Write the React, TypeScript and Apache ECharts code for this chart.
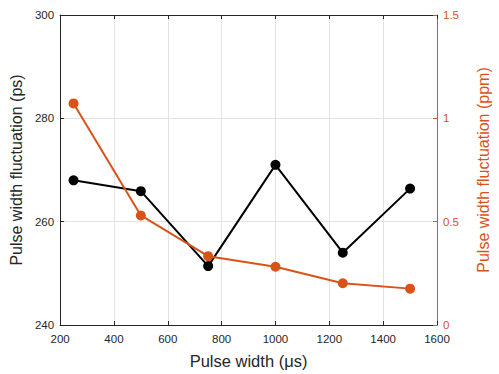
import React, { useEffect, useRef } from "react";
import * as echarts from "echarts";

const pulseWidths = [250, 500, 750, 1000, 1250, 1500];
const fluctuationPs = [268.0, 265.9, 251.4, 271.0, 254.0, 266.4];
const fluctuationPpm = [1.072, 0.53, 0.333, 0.282, 0.202, 0.176];
const leftTicks = [240, 260, 280, 300];
const rightTicks = [0, 0.5, 1, 1.5];

const ORANGE = "#D95319";
const AXIS = "#262626";
const FONT = "Liberation Sans, Arial, Helvetica, sans-serif";

export default function App() {
  const ref = useRef<HTMLDivElement>(null);
  useEffect(() => {
    if (!ref.current) return;
    const chart = echarts.init(ref.current, undefined, { renderer: "svg" });
    chart.setOption({
      animation: false,
      backgroundColor: "#ffffff",
      textStyle: { fontFamily: FONT },
      grid: { left: 58, right: 46, top: 15, bottom: 47, containLabel: false },
      xAxis: [
        {
          type: "value",
          min: 200,
          max: 1600,
          interval: 200,
          name: "Pulse width (μs)",
          nameLocation: "middle",
          nameGap: 27,
          nameTextStyle: { fontSize: 16.5, color: AXIS, fontFamily: FONT },
          axisLine: { show: true, lineStyle: { color: AXIS, width: 1 } },
          axisTick: { show: true, inside: true, length: 4, lineStyle: { color: AXIS } },
          axisLabel: { fontSize: 11.5, color: AXIS, margin: 8, fontFamily: FONT, formatter: (v: number) => String(v) },
          splitLine: { show: true, lineStyle: { color: "#e3e3e3", width: 1 } },
        },
        {
          type: "value",
          position: "top",
          min: 200,
          max: 1600,
          interval: 200,
          axisLine: { show: true, onZero: false, lineStyle: { color: AXIS, width: 1 } },
          axisTick: { show: true, inside: true, length: 4, lineStyle: { color: AXIS } },
          axisLabel: { show: false },
          splitLine: { show: false },
        },
      ],
      yAxis: [
        {
          type: "value",
          position: "left",
          min: leftTicks[0],
          max: leftTicks[leftTicks.length - 1],
          interval: 20,
          name: "Pulse width fluctuation (ps)",
          nameLocation: "middle",
          nameGap: 32,
          nameTextStyle: { fontSize: 16, color: AXIS, fontFamily: FONT },
          axisLine: { show: true, lineStyle: { color: AXIS, width: 1 } },
          axisTick: { show: true, inside: true, length: 4, lineStyle: { color: AXIS } },
          axisLabel: { fontSize: 11.5, color: AXIS, margin: 6, fontFamily: FONT },
          splitLine: { show: true, lineStyle: { color: "#e3e3e3", width: 1 } },
        },
        {
          type: "value",
          position: "right",
          min: rightTicks[0],
          max: rightTicks[rightTicks.length - 1],
          interval: 0.5,
          name: "Pulse width fluctuation (ppm)",
          nameLocation: "middle",
          nameGap: 38,
          nameRotate: 90,
          nameTextStyle: { fontSize: 16, color: ORANGE, fontFamily: FONT },
          axisLine: { show: true, lineStyle: { color: ORANGE, width: 1 } },
          axisTick: { show: true, inside: true, length: 4, lineStyle: { color: ORANGE } },
          axisLabel: { fontSize: 11.5, color: ORANGE, margin: 6, fontFamily: FONT, formatter: (v: number) => String(v) },
          splitLine: { show: false },
        },
      ],
      series: [
        {
          type: "line",
          yAxisIndex: 0,
          data: pulseWidths.map((x, i) => [x, fluctuationPs[i]]),
          symbol: "circle",
          symbolSize: 10,
          lineStyle: { color: "#000000", width: 2 },
          itemStyle: { color: "#000000" },
        },
        {
          type: "line",
          yAxisIndex: 1,
          data: pulseWidths.map((x, i) => [x, fluctuationPpm[i]]),
          symbol: "circle",
          symbolSize: 10,
          lineStyle: { color: ORANGE, width: 2 },
          itemStyle: { color: ORANGE },
        },
      ],
    });
    return () => chart.dispose();
  }, []);
  return <div ref={ref} style={{ width: 499, height: 374, position: "absolute", left: 0, top: 0 }} />;
}
